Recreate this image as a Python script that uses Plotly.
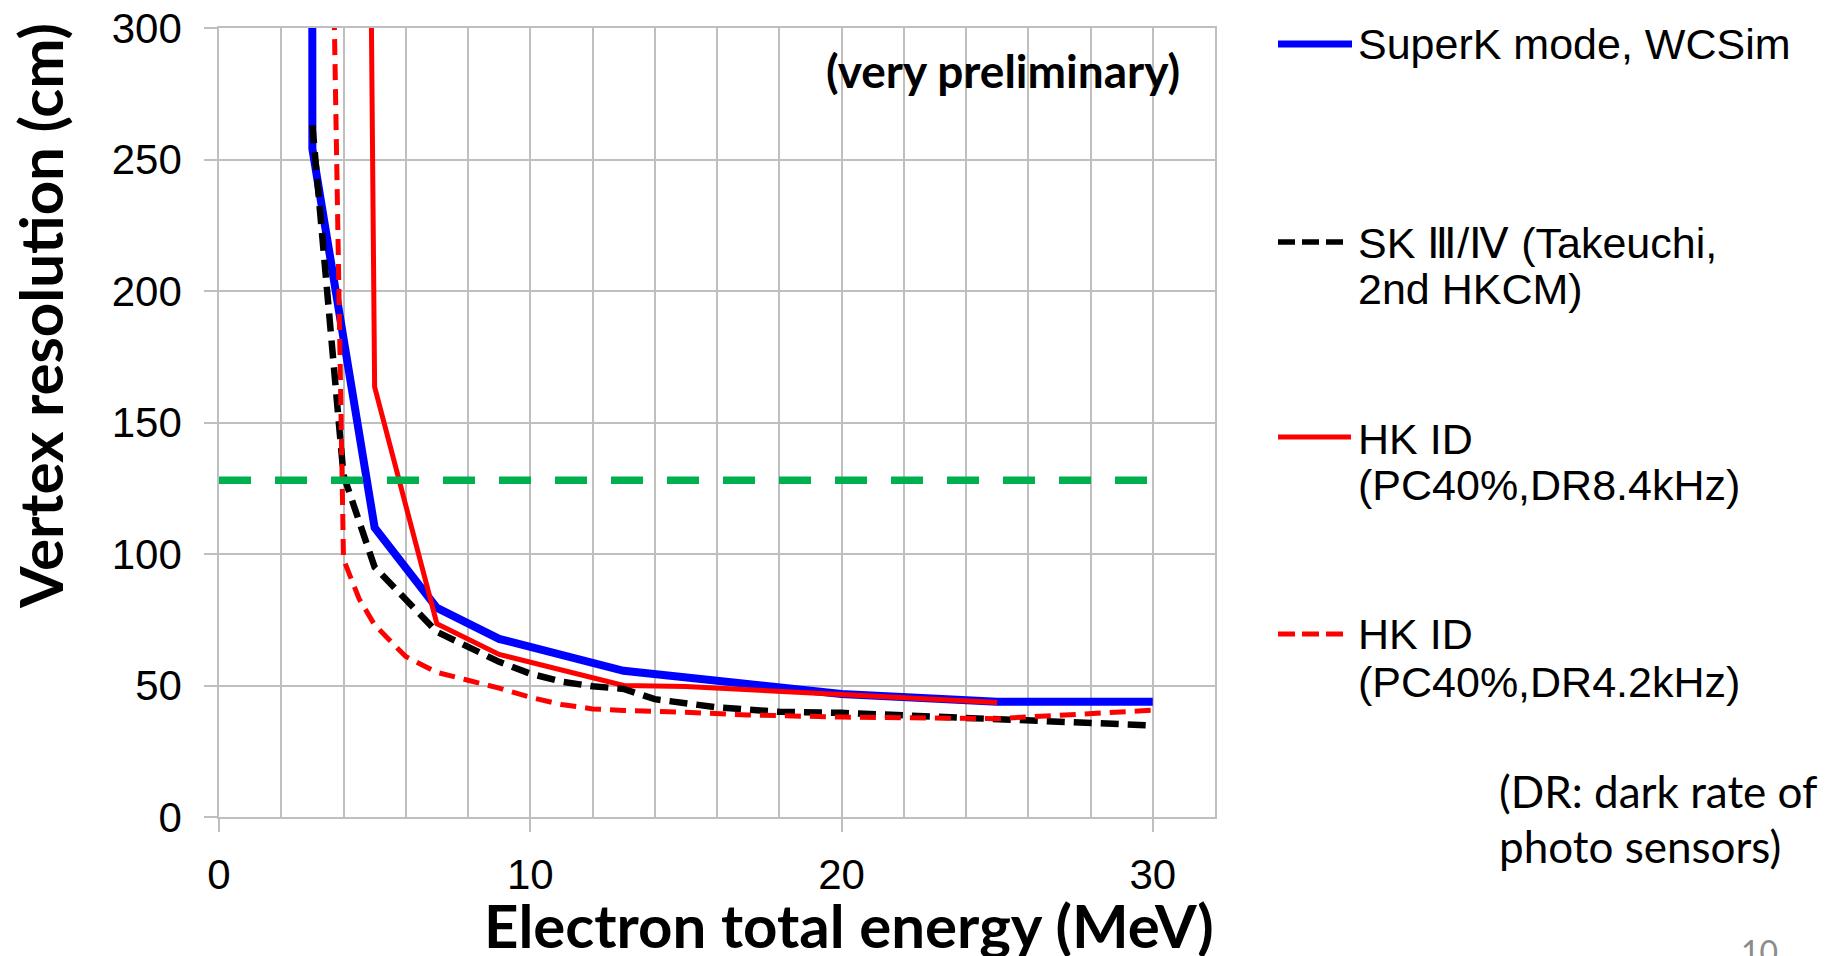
import plotly.graph_objects as go

# ---------------- data ----------------
blue_energy = [2.9, 3, 5, 7, 9, 13, 20, 25, 30]
blue_res = [2500, 254, 110, 79.5, 67.7, 55.6, 46.8, 43.8, 43.8]

sk_energy = [3, 4, 5, 7, 9, 10, 11, 12, 13, 14, 16, 18, 20, 25, 30]
sk_res = [263, 130, 95, 70.4, 59, 54.5, 51.5, 49.7, 48.7, 44.8, 41.7, 40, 39.6, 37.5, 34.8]

hk84_energy = [4, 5, 7, 9, 13, 15, 20, 25]
hk84_res = [1500, 163.5, 73.5, 61.8, 50, 49.6, 46.6, 43.5]

hk42_energy = [3, 4, 4.5, 5, 6, 7, 8, 9, 10, 11, 12, 13, 15, 17, 20, 25, 30]
hk42_res = [790, 98, 83, 73, 61, 55, 52, 49, 45.5, 42.8, 41.1, 40.5, 39.8, 38.8, 38, 37.4, 40.6]

threshold_energy = [0, 30]
threshold_res = [128, 128]

x_ticks = [0, 10, 20, 30]
y_ticks = [0, 50, 100, 150, 200, 250, 300]

legend_names = [
    ["SuperK mode, WCSim"],
    ["SK Ⅲ/Ⅳ (Takeuchi,", "2nd HKCM)"],
    ["HK ID", "(PC40%,DR8.4kHz)"],
    ["HK ID", "(PC40%,DR4.2kHz)"],
]
note_lines = ["(DR: dark rate of", "photo sensors)"]

# ---------------- layout geometry ----------------
W, H = 1837, 956
L, R, T, B = 219, 622, 28, 139
PW, PH = W - L - R, H - T - B


def px(xp):
    return (xp - L) / PW


def py(yp):
    return (H - B - yp) / PH


BLUE = "#0000FF"
RED = "#FF0000"
BLACK = "#000000"
GREEN = "#00B050"
GRID = "#BFBFBF"

fig = go.Figure()
fig.add_trace(go.Scatter(x=blue_energy, y=blue_res, mode="lines",
                         line=dict(color=BLUE, width=8), showlegend=False))
fig.add_trace(go.Scatter(x=hk84_energy, y=hk84_res, mode="lines",
                         line=dict(color=RED, width=5), showlegend=False))
fig.add_trace(go.Scatter(x=sk_energy, y=sk_res, mode="lines",
                         line=dict(color=BLACK, width=6.5, dash="18px,9px"), showlegend=False))
fig.add_trace(go.Scatter(x=hk42_energy, y=hk42_res, mode="lines",
                         line=dict(color=RED, width=5, dash="16px,9px"), showlegend=False))
fig.add_trace(go.Scatter(x=threshold_energy, y=threshold_res, mode="lines",
                         line=dict(color=GREEN, width=7.5, dash="32px,24px"), showlegend=False))

tickfont = dict(family="Liberation Sans, Arial, sans-serif", size=42, color="black")

fig.update_xaxes(range=[0, 32], tickvals=x_ticks, ticktext=[str(v) for v in x_ticks],
                 ticks="outside", ticklen=13, tickwidth=1.5, tickcolor=GRID,
                 showgrid=True, gridcolor=GRID, gridwidth=1.5,
                 minor=dict(dtick=2, tick0=0, showgrid=True, gridcolor=GRID, gridwidth=1.5, ticks=""),
                 showline=True, linecolor=GRID, linewidth=1.5, mirror=True,
                 zeroline=False, tickfont=tickfont, ticklabelstandoff=7)
fig.update_yaxes(range=[0, 300], tickvals=y_ticks, ticktext=[str(v) for v in y_ticks],
                 ticks="outside", ticklen=13, tickwidth=1.5, tickcolor=GRID,
                 showgrid=True, gridcolor=GRID, gridwidth=1.5,
                 showline=True, linecolor=GRID, linewidth=1.5, mirror=True,
                 zeroline=False, tickfont=tickfont, ticklabelstandoff=14)

shapes = []
annotations = []

# legend keys
legend_styles = [
    dict(color=BLUE, width=7, dash="solid"),
    dict(color=BLACK, width=5.5, dash="17px,7px"),
    dict(color=RED, width=5, dash="solid"),
    dict(color=RED, width=5, dash="17px,7px"),
]
legend_key_y = [44, 242, 437, 634]
legend_key_x1 = [1352, 1346, 1351, 1346]
legend_text_y = [[44], [243, 289], [439, 485], [634, 682]]
legfont = dict(family="Liberation Sans, Arial, sans-serif", size=43, color="black")
for st, ky, kx1, names, tys in zip(legend_styles, legend_key_y, legend_key_x1, legend_names, legend_text_y):
    shapes.append(dict(type="line", xref="paper", yref="paper",
                       x0=px(1278), x1=px(kx1), y0=py(ky), y1=py(ky), line=st))
    for name, ty in zip(names, tys):
        annotations.append(dict(text=name, xref="paper", yref="paper", x=px(1356), y=py(ty),
                                xanchor="left", yanchor="middle", showarrow=False, font=legfont))

notefont = dict(family="Lato, sans-serif", size=44, color="black")
for line, ty in zip(note_lines, [791, 846]):
    annotations.append(dict(text=line, xref="paper", yref="paper", x=px(1497), y=py(ty),
                            xanchor="left", yanchor="middle", showarrow=False, font=notefont))

titlefont = dict(family="Lato, sans-serif", size=60, color="black", weight="bold")
annotations.append(dict(text="<b>Electron total energy (MeV)</b>", xref="paper", yref="paper",
                        x=px(849), y=py(925), xanchor="center", yanchor="middle",
                        showarrow=False, font=titlefont))
annotations.append(dict(text="<b>Vertex resolution (cm)</b>", xref="paper", yref="paper",
                        x=px(40), y=py(316), xanchor="center", yanchor="middle", textangle=-90,
                        showarrow=False, font=titlefont))
annotations.append(dict(text="<b>(very preliminary)</b>", xref="paper", yref="paper",
                        x=px(1003), y=py(70), xanchor="center", yanchor="middle",
                        showarrow=False, font=dict(family="Lato, sans-serif", size=46, color="black")))
annotations.append(dict(text="10", xref="paper", yref="paper", x=px(1759), y=py(930),
                        xanchor="center", yanchor="top", showarrow=False,
                        font=dict(family="Lato, sans-serif", size=32, color="#8C8C8C")))

fig.update_layout(width=W, height=H, margin=dict(l=L, r=R, t=T, b=B, autoexpand=False),
                  paper_bgcolor="white", plot_bgcolor="white",
                  shapes=shapes, annotations=annotations, showlegend=False)

fig.write_html("out.html", config={"displayModeBar": False})
